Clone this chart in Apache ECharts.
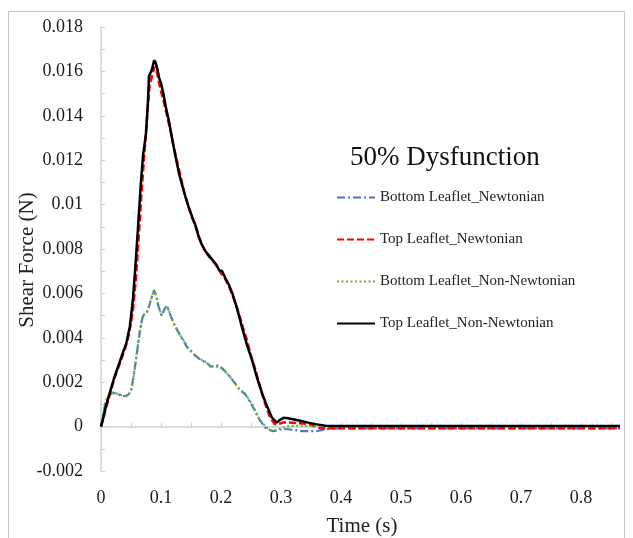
<!DOCTYPE html>
<html>
<head>
<meta charset="utf-8">
<script src="https://cdn.jsdelivr.net/npm/echarts@6/dist/echarts.min.js"></script>
<style>
  html, body { margin: 0; padding: 0; background: #fff; }
  #chart { width: 633px; height: 538px; }
</style>
</head>
<body>
<div id="chart"></div>
<script>
// Trục
var xLabelValues = [0, 0.1, 0.2, 0.3, 0.4, 0.5, 0.6, 0.7, 0.8];
var xTickValues = [0, 0.05, 0.1, 0.15, 0.2, 0.25, 0.3, 0.35, 0.4, 0.45, 0.5, 0.55, 0.6, 0.65, 0.7, 0.75, 0.8, 0.85];

var seriesNames = ['Bottom Leaflet_Newtonian', 'Top Leaflet_Newtonian', 'Bottom Leaflet_Non-Newtonian', 'Top Leaflet_Non-Newtonian'];

// Bottom Leaflet_Newtonian
var tBottomNewt = [0, 0.004, 0.008, 0.013, 0.019, 0.025, 0.030, 0.036, 0.042, 0.047, 0.050, 0.054, 0.058, 0.064, 0.069, 0.072, 0.078, 0.083, 0.0885, 0.092, 0.096, 0.101, 0.106, 0.110, 0.116, 0.122, 0.130, 0.138, 0.144, 0.150, 0.157, 0.166, 0.175, 0.183, 0.190, 0.197, 0.203, 0.210, 0.216, 0.222, 0.230, 0.241, 0.252, 0.263, 0.274, 0.285, 0.293, 0.302, 0.315, 0.335, 0.360, 0.380, 0.400, 0.5, 0.6, 0.7, 0.8, 0.865];
var vBottomNewt = [0, 0.0006, 0.00114, 0.0014, 0.00152, 0.0015, 0.00144, 0.00138, 0.00137, 0.00148, 0.0016, 0.0022, 0.00295, 0.00415, 0.0049, 0.00505, 0.0052, 0.0057, 0.00614, 0.0059, 0.0054, 0.0050, 0.0053, 0.00543, 0.0050, 0.0046, 0.0042, 0.00385, 0.00355, 0.0034, 0.0032, 0.003, 0.0029, 0.0027, 0.00275, 0.00275, 0.0026, 0.0024, 0.0022, 0.002, 0.0017, 0.00144, 0.00095, 0.00035, -0.00005, -0.0002, -0.00018, -0.0001, -0.00013, -0.0002, -0.0002, -0.0001, -0.00008, -0.00008, -0.00008, -0.00008, -0.00008, -0.00008];

// Top Leaflet_Newtonian
var tTopNewt = [0, 0.004, 0.010, 0.016, 0.024, 0.032, 0.040, 0.047, 0.053, 0.058, 0.062, 0.067, 0.072, 0.077, 0.081, 0.085, 0.089, 0.092, 0.096, 0.100, 0.105, 0.110, 0.116, 0.122, 0.128, 0.134, 0.140, 0.146, 0.152, 0.158, 0.164, 0.170, 0.176, 0.182, 0.188, 0.194, 0.200, 0.206, 0.212, 0.218, 0.226, 0.234, 0.242, 0.250, 0.258, 0.266, 0.274, 0.282, 0.290, 0.296, 0.303, 0.313, 0.325, 0.337, 0.350, 0.365, 0.400, 0.5, 0.6, 0.7, 0.8, 0.865];
var vTopNewt = [0, 0.0004, 0.0010, 0.0016, 0.0023, 0.0029, 0.0035, 0.0042, 0.0052, 0.0066, 0.0082, 0.0103, 0.0122, 0.0140, 0.0154, 0.0158, 0.0162, 0.0161, 0.0156, 0.0151, 0.0146, 0.0140, 0.0133, 0.0125, 0.0118, 0.0111, 0.0104, 0.0099, 0.0094, 0.0090, 0.0085, 0.0081, 0.0078, 0.0076, 0.0074, 0.0072, 0.0069, 0.0067, 0.0064, 0.0060, 0.0054, 0.0047, 0.0040, 0.0032, 0.0025, 0.0017, 0.0010, 0.0004, 0.0001, 0.00012, 0.00018, 0.00018, 0.00016, 0.00014, 0.00008, -0.00007, -0.00007, -0.00007, -0.00007, -0.00007, -0.00007, -0.00007];

// Bottom Leaflet_Non-Newtonian
var tBottomNonNewt = [0, 0.004, 0.008, 0.013, 0.019, 0.025, 0.030, 0.036, 0.042, 0.047, 0.050, 0.054, 0.058, 0.064, 0.069, 0.072, 0.078, 0.083, 0.0885, 0.092, 0.096, 0.101, 0.106, 0.110, 0.116, 0.122, 0.130, 0.138, 0.144, 0.150, 0.157, 0.166, 0.175, 0.183, 0.190, 0.197, 0.203, 0.210, 0.216, 0.222, 0.230, 0.241, 0.252, 0.263, 0.274, 0.285, 0.293, 0.302, 0.315, 0.335, 0.360, 0.400, 0.5, 0.6, 0.7, 0.8, 0.865];
var vBottomNonNewt = [0, 0.0006, 0.00116, 0.0014, 0.00153, 0.0015, 0.00146, 0.0014, 0.00139, 0.0015, 0.00161, 0.0022, 0.00297, 0.00417, 0.00492, 0.00507, 0.00522, 0.0057, 0.00616, 0.0059, 0.0054, 0.0050, 0.0053, 0.00545, 0.0050, 0.00462, 0.0042, 0.00387, 0.00357, 0.0034, 0.0032, 0.00304, 0.0029, 0.0027, 0.0027, 0.00268, 0.0026, 0.0024, 0.00221, 0.0020, 0.0017, 0.00146, 0.0010, 0.0004, 0.0000, -0.0002, -0.00015, -0.00005, 0.00003, 0.00003, 0.00002, 0, 0, 0, 0, 0, 0];

// Top Leaflet_Non-Newtonian
var tTopNonNewt = [0, 0.003, 0.008, 0.014, 0.022, 0.030, 0.036, 0.042, 0.048, 0.053, 0.057, 0.061, 0.066, 0.070, 0.075, 0.078, 0.080, 0.082, 0.085, 0.0885, 0.091, 0.094, 0.097, 0.100, 0.104, 0.108, 0.113, 0.119, 0.124, 0.130, 0.135, 0.141, 0.146, 0.152, 0.157, 0.163, 0.168, 0.174, 0.180, 0.186, 0.192, 0.197, 0.202, 0.207, 0.213, 0.219, 0.227, 0.235, 0.243, 0.252, 0.260, 0.269, 0.277, 0.285, 0.293, 0.298, 0.304, 0.312, 0.322, 0.332, 0.345, 0.360, 0.374, 0.400, 0.5, 0.6, 0.7, 0.8, 0.865];
var vTopNonNewt = [0, 0.0003, 0.0009, 0.00146, 0.0022, 0.00282, 0.0033, 0.00373, 0.0045, 0.00567, 0.0071, 0.0087, 0.0108, 0.0122, 0.0132, 0.0145, 0.0158, 0.0159, 0.0161, 0.0165, 0.0164, 0.0161, 0.0157, 0.01547, 0.0150, 0.0144, 0.0138, 0.0129, 0.0122, 0.0114, 0.0109, 0.01034, 0.0099, 0.00944, 0.0091, 0.00853, 0.0082, 0.0079, 0.0077, 0.0075, 0.0073, 0.00705, 0.0070, 0.0067, 0.0064, 0.0060, 0.0053, 0.00447, 0.0037, 0.00297, 0.0022, 0.00146, 0.0009, 0.0004, 0.00018, 0.0003, 0.0004, 0.00038, 0.00032, 0.00026, 0.00018, 0.0001, 0.00004, 0.00003, 0.00003, 0.00003, 0.00003, 0.00003, 0.00003];

function pairs(t, v) {
    return t.map(function (x, i) { return [x, v[i]]; });
}

var fontSerif = '"Liberation Serif", "DejaVu Serif", serif';

var chartDom = document.getElementById('chart');
var myChart = echarts.init(chartDom, null, { renderer: 'canvas' });

var axisGray = '#d0d0d0';

var option = {
    animation: false,
    backgroundColor: '#fff',
    title: {
        text: '50% Dysfunction',
        left: 345,
        top: 139,
        textStyle: { fontFamily: fontSerif, fontSize: 27, fontWeight: 'normal', color: '#111' }
    },
    legend: {
        orient: 'vertical',
        left: 331,
        top: 185,
        itemWidth: 38,
        itemHeight: 14,
        itemGap: 27,
        itemStyle: { opacity: 0 },
        data: seriesNames,
        textStyle: { fontFamily: fontSerif, fontSize: 15, color: '#222' }
    },
    grid: {
        left: 101,
        right: 13,
        top: 27,
        bottom: 67,
        outerBoundsMode: 'none'
    },
    xAxis: {
        type: 'value',
        min: 0,
        max: 0.865,
        interval: 0.1,
        splitLine: { show: false },
        axisLine: { lineStyle: { color: axisGray, width: 1.5 } },
        axisTick: { inside: true, length: 4, lineStyle: { color: axisGray }, customValues: xTickValues },
        axisLabel: {
            customValues: xLabelValues,
            margin: 18,
            fontFamily: fontSerif,
            fontSize: 18,
            color: '#1a1a1a',
            formatter: function (v) { return String(Math.round(v * 10) / 10); }
        }
    },
    yAxis: {
        type: 'value',
        min: -0.002,
        max: 0.018,
        interval: 0.002,
        splitLine: { show: false },
        axisLine: { show: true, lineStyle: { color: axisGray, width: 1.5 } },
        axisTick: { show: true, inside: true, length: 4, lineStyle: { color: axisGray } },
        minorTick: { show: true, splitNumber: 2, length: 4, lineStyle: { color: axisGray } },
        axisLabel: {
            margin: 18,
            fontFamily: fontSerif,
            fontSize: 18,
            color: '#1a1a1a',
            formatter: function (v) { return String(Math.round(v * 1000) / 1000); }
        }
    },
    series: [
        {
            name: seriesNames[0],
            type: 'line',
            data: pairs(tBottomNewt, vBottomNewt),
            showSymbol: false,
            symbol: 'none',
            color: '#4a76c6',
            lineStyle: { width: 2.2, type: [8, 3, 2, 3], color: '#4a76c6' }
        },
        {
            name: seriesNames[1],
            type: 'line',
            data: pairs(tTopNewt, vTopNewt),
            showSymbol: false,
            symbol: 'none',
            color: '#ff0000',
            lineStyle: { width: 2.5, type: [7, 3], color: '#ff0000' }
        },
        {
            name: seriesNames[2],
            type: 'line',
            data: pairs(tBottomNonNewt, vBottomNonNewt),
            showSymbol: false,
            symbol: 'none',
            color: '#6cb044',
            lineStyle: { width: 2.2, type: [2, 2.5], color: '#6cb044' }
        },
        {
            name: seriesNames[3],
            type: 'line',
            data: pairs(tTopNonNewt, vTopNonNewt),
            showSymbol: false,
            symbol: 'none',
            color: '#000',
            lineStyle: { width: 2.5, color: '#000' }
        }
    ],
    graphic: [
        {
            type: 'rect',
            silent: true,
            shape: { x: 8.5, y: 11.5, width: 616, height: 540 },
            style: { fill: 'none', stroke: '#c4c4c4', lineWidth: 1 }
        },
        {
            type: 'text',
            x: 27,
            y: 260,
            rotation: Math.PI / 2,
            style: {
                text: 'Shear Force (N)',
                fontFamily: fontSerif,
                fontSize: 21,
                fill: '#222',
                align: 'center',
                verticalAlign: 'middle'
            }
        },
        {
            type: 'text',
            x: 362,
            y: 526,
            style: {
                text: 'Time (s)',
                fontFamily: fontSerif,
                fontSize: 21,
                fill: '#222',
                align: 'center',
                verticalAlign: 'middle'
            }
        }
    ]
};

myChart.setOption(option);
</script>
</body>
</html>
